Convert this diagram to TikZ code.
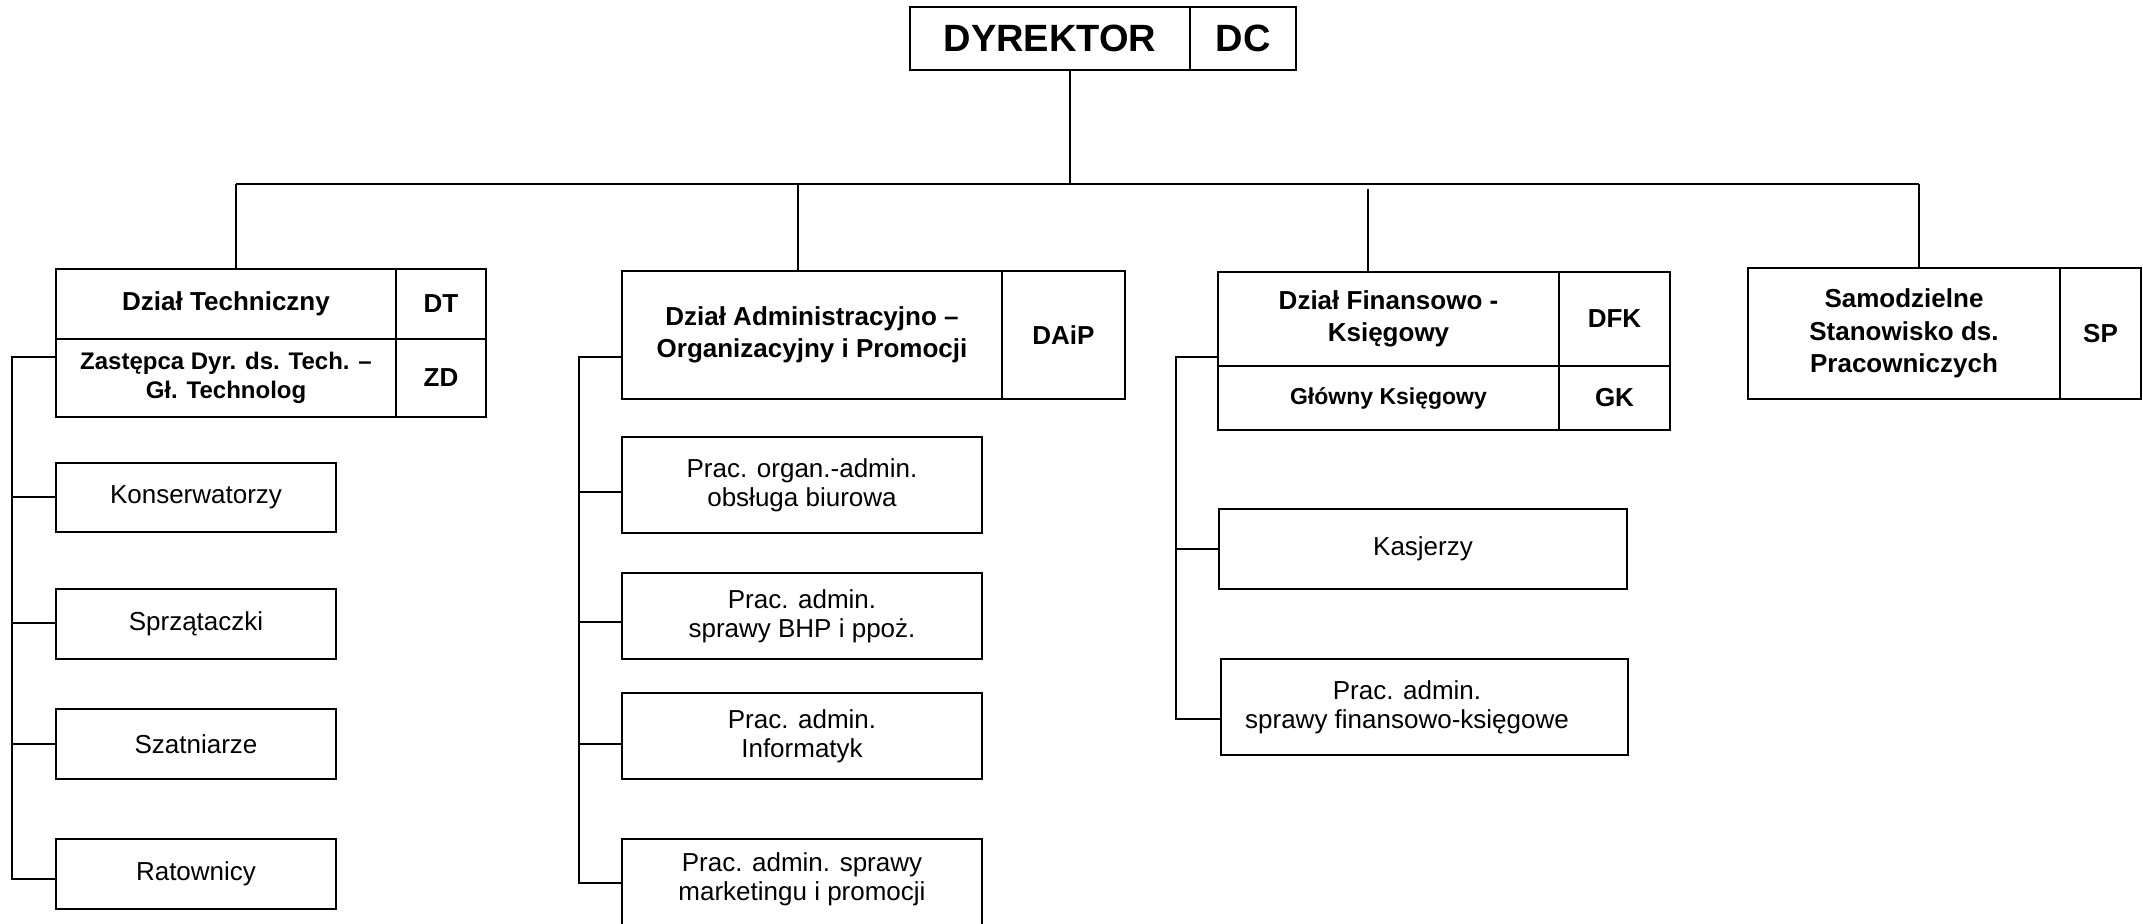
\documentclass[tikz,border=0pt]{standalone}
\usepackage{fontspec}
\setmainfont{Liberation Sans}
\begin{document}
\begin{tikzpicture}[x=0.5pt,y=-0.5pt,
  line width=1pt,
  cell/.style={draw, rectangle, inner sep=0pt, line width=1pt, align=center},
  box/.style n args={4}{minimum width={(#3-#1)*0.5pt}, minimum height={(#4-#2)*0.5pt}, at={({(#1+#3)/2},{(#2+#4)/2})}},
  hd/.style={cell, font=\fontsize{13}{16.2}\selectfont\bfseries},
  big/.style={cell, font=\fontsize{19}{22}\selectfont\bfseries},
  sub/.style={cell, font=\fontsize{12}{14.5}\selectfont\bfseries},
  gk/.style={cell, font=\fontsize{11.5}{13.5}\selectfont\bfseries},
  item/.style={cell, font=\fontsize{13}{14.5}\selectfont},
  txt/.style={inner sep=0pt, align=center, font=\fontsize{13}{14.5}\selectfont}
]
\useasboundingbox (0,0) rectangle (2143,923);
\clip (0,0) rectangle (2143,923);

% top
\node[big, box={910}{7}{1190}{70}] (dyr) {DYREKTOR};
\node[big, box={1190}{7}{1296}{70}] (dc) {DC};

% Dział Techniczny
\node[hd, box={56}{269}{396}{339}] (dt) {Dział Techniczny};
\node[hd, box={396}{269}{486}{339}] (dtc) {DT};
\node[sub, box={56}{339}{396}{417}] (zd) {Zastępca Dyr. ds. Tech. –\\Gł. Technolog};
\node[hd, box={396}{339}{486}{417}] (zdc) {ZD};
\node[item, box={56}{463}{336}{532}] (kons) {Konserwatorzy};
\node[item, box={56}{589}{336}{659}] (sprz) {Sprzątaczki};
\node[item, box={56}{709}{336}{779}] (szat) {Szatniarze};
\node[item, box={56}{839}{336}{909}] (rat) {Ratownicy};

% Dział Administracyjno
\node[hd, box={622}{271}{1002}{399}] (daip) {Dział Administracyjno –\\Organizacyjny i Promocji};
\node[hd, box={1002}{271}{1125}{399}] (daipc) {DAiP};
\node[item, box={622}{437}{982}{533}] (org) {Prac. organ.-admin.\\obsługa biurowa};
\node[item, box={622}{573}{982}{659}] (bhp) {Prac. admin.\\sprawy BHP i ppoż.};
\node[item, box={622}{693}{982}{779}] (inf) {Prac. admin.\\Informatyk};
\node[cell, box={622}{839}{982}{945}] (mkt) {};
\node[txt] (mktt) at (802,879) {Prac. admin. sprawy\\marketingu i promocji};

% Dział Finansowo
\node[hd, box={1218}{272}{1559}{366}] (dfk) {Dział Finansowo -\\Księgowy};
\node[hd, box={1559}{272}{1670}{366}] (dfkc) {DFK};
\node[gk, box={1218}{366}{1559}{430}] (gk) {Główny Księgowy};
\node[hd, box={1559}{366}{1670}{430}] (gkc) {GK};
\node[item, box={1219}{509}{1627}{589}] (kas) {Kasjerzy};
\node[cell, box={1221}{659}{1628}{755}] (fin) {};
\node[txt] (fint) at (1407,707) {Prac. admin.\\sprawy finansowo-księgowe};

% Samodzielne
\node[hd, box={1748}{268}{2060}{399}] (sp) {Samodzielne\\Stanowisko ds.\\Pracowniczych};
\node[hd, box={2060}{268}{2141}{399}] (spc) {SP};

% bus
\coordinate (stem) at (1070,184);
\coordinate (busL) at (236,184);
\coordinate (busR) at (1919,184);
\coordinate (b2) at (798,184);
\coordinate (b3) at (1368,189);
\draw (dyr.south -| stem) -- (stem);
\draw (busL) -- (busR);
\draw (busL) -- (dt.north -| busL);
\draw (b2) -- (daip.north -| b2);
\draw (b3) -- (dfk.north -| b3);
\draw (busR) -- (sp.north -| busR);

% left bracket
\coordinate (tTop) at (12,357);
\coordinate (tBot) at (12,879);
\draw (zd.west |- tTop) -- (tTop) -- (tBot) -- (rat.west |- tBot);
\draw (kons.west |- 0,497) -- (tTop |- 0,497);
\draw (sprz.west |- 0,623) -- (tTop |- 0,623);
\draw (szat.west |- 0,744) -- (tTop |- 0,744);

% admin bracket
\coordinate (aTop) at (579,357);
\coordinate (aBot) at (579,883);
\draw (daip.west |- aTop) -- (aTop) -- (aBot) -- (mkt.west |- aBot);
\draw (org.west |- 0,492) -- (aTop |- 0,492);
\draw (bhp.west |- 0,622) -- (aTop |- 0,622);
\draw (inf.west |- 0,744) -- (aTop |- 0,744);

% finance bracket
\coordinate (fTop) at (1176,357);
\coordinate (fBot) at (1176,719);
\draw (dfk.west |- fTop) -- (fTop) -- (fBot) -- (fin.west |- fBot);
\draw (kas.west |- 0,549) -- (fTop |- 0,549);
\end{tikzpicture}
\end{document}
